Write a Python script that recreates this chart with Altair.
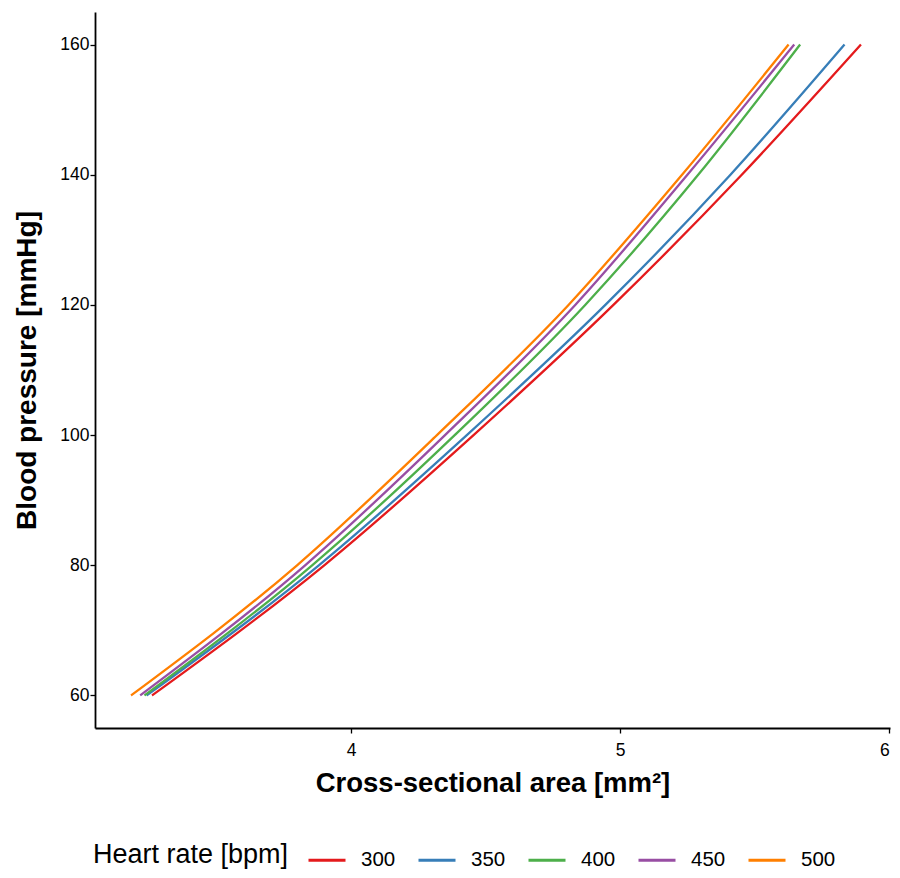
import altair as alt
import pandas as pd

heart_rates = ["300", "350", "400", "450", "500"]
pressure = [60, 80, 100, 120, 140, 160]
area_300 = [3.26, 3.90, 4.455, 4.975, 5.452, 5.895]
area_350 = [3.24, 3.88, 4.43, 4.945, 5.41, 5.834]
area_400 = [3.232, 3.855, 4.385, 4.87, 5.29, 5.669]
area_450 = [3.216, 3.829, 4.349, 4.833, 5.25, 5.647]
area_500 = [3.182, 3.799, 4.319, 4.808, 5.23, 5.626]
colors = ["#E41A1C", "#377EB8", "#4DAF4A", "#984EA3", "#FF7F00"]

rows = []
for hr, areas in zip(heart_rates, [area_300, area_350, area_400, area_450, area_500]):
    for i, (p, a) in enumerate(zip(pressure, areas)):
        rows.append({"hr": hr, "area": a, "pressure": p, "order": i})
df = pd.DataFrame(rows)

font = "Liberation Sans"

chart = alt.Chart(df).mark_line(strokeWidth=2.3, interpolate="monotone").encode(
    x=alt.X("area:Q",
            scale=alt.Scale(domain=[3.048, 6.003], nice=False, zero=False),
            axis=alt.Axis(title="Cross-sectional area [mm²]", values=[4, 5, 6],
                          grid=False, format="d", labelPadding=8, titlePadding=11,
                          titleFontSize=27.5)),
    y=alt.Y("pressure:Q",
            scale=alt.Scale(domain=[55, 165], nice=False, zero=False),
            axis=alt.Axis(title="Blood pressure [mmHg]", values=[60, 80, 100, 120, 140, 160],
                          grid=False, labelPadding=1, titlePadding=18)),
    color=alt.Color("hr:N", sort=heart_rates,
                    scale=alt.Scale(domain=heart_rates, range=colors),
                    legend=alt.Legend(title="Heart rate [bpm]", orient="none",
                                      direction="horizontal", titleOrient="left",
                                      titleAnchor="middle", titleBaseline="middle",
                                      legendX=-2, legendY=828, titleLimit=500,
                                      symbolType="stroke", symbolSize=1369,
                                      symbolStrokeWidth=3, labelOffset=14,
                                      columnPadding=16,
                                      titleFontSize=27, titleFontWeight="normal",
                                      titleFont=font, titleColor="black",
                                      labelFont=font, labelFontSize=20.5, labelColor="black",
                                      titlePadding=18)),
    order="order:Q",
).properties(
    width=795, height=716,
    autosize=alt.AutoSizeParams(type="none"),
    padding={"left": 87, "top": 4, "right": 2, "bottom": 142},
).configure_view(stroke=None).configure_axis(
    domainColor="black", domainWidth=1.8, tickColor="black", tickWidth=1.3, tickSize=5,
    labelFont=font, labelFontSize=17.5, labelColor="black",
    titleFont=font, titleFontSize=28, titleFontWeight="bold", titleColor="black",
)

chart.save("out.html", embed_options={"renderer": "svg", "actions": False})
